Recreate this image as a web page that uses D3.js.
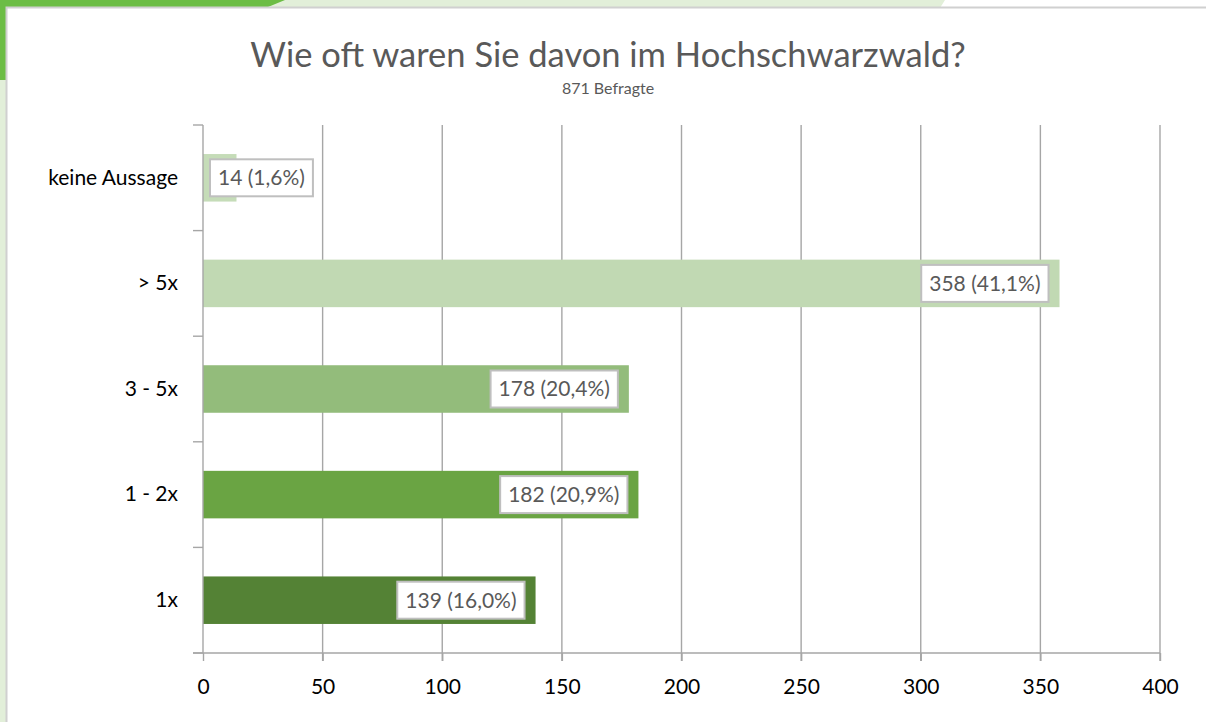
<!DOCTYPE html>
<html>
<head>
<meta charset="utf-8">
<script src="https://cdn.jsdelivr.net/npm/d3@7"></script>
<style>
  body { margin: 0; background: #fff; }
  svg { display: block; }
  svg text { font-family: Lato, "Open Sans", sans-serif; }
</style>
</head>
<body>
<div class="chart-wrapper"></div>
<script>

// data
const categories = ["keine Aussage", "> 5x", "3 - 5x", "1 - 2x", "1x"];
const counts = [14, 358, 178, 182, 139];
const shares = [1.6, 41.1, 20.4, 20.9, 16.0];
const barColors = ["#c5dcb8", "#c1d9b3", "#93bc7b", "#6aa443", "#548235"];
const xTicks = [0, 50, 100, 150, 200, 250, 300, 350, 400];

const titleText = "Wie oft waren Sie davon im Hochschwarzwald?";
const subtitleText = "871 Befragte";

const width = 1206;
const height = 722;

let svg = d3.select('.chart-wrapper').append('svg')
.attr('width', width)
.attr('height', height)

// SLIDE BACKGROUND

svg.append('rect')
.attr('width', width)
.attr('height', height)
.style('fill', '#e2efd9')

svg.append('path')
.attr('d', 'M945,0 L1206,0 L1206,8 L940,8 Z')
.style('fill', '#ffffff')

svg.append('path')
.attr('d', 'M0,0 L285,0 L268,7 L6,7 L6,80 L0,80 Z')
.style('fill', '#6cbd45')

svg.append('rect')
.attr('x', 6)
.attr('y', 7)
.attr('width', width - 6)
.attr('height', height - 7)
.style('fill', '#ffffff')

svg.append('path')
.attr('d', 'M6.5,' + height + ' L6.5,7.5 L' + width + ',7.5')
.style('fill', 'none')
.style('stroke', '#d0d0d0')
.style('stroke-width', 2)

// SCALES

let x = d3.scaleLinear()
.domain([0, 400])
.range([203, 1160])

let y = d3.scaleBand()
.domain(categories)
.range([125, 653])
.paddingInner(0.55)
.paddingOuter(0.275)

const gridColor = '#a6a6a6';

// TITLE

svg.append('text')
.attr('x', 608)
.attr('y', 67)
.attr('text-anchor', 'middle')
.style('font-size', '34.5px')
.style('fill', '#595959')
.text(titleText)

svg.append('text')
.attr('x', 608)
.attr('y', 94)
.attr('text-anchor', 'middle')
.style('font-size', '16px')
.style('fill', '#595959')
.text(subtitleText)

// GRID

let grid = svg.append('g')
.attr('class', 'grid')

grid.selectAll('line')
.data(xTicks.slice(1))
.enter()
.append('line')
.attr('x1', d => x(d))
.attr('x2', d => x(d))
.attr('y1', y.range()[0])
.attr('y2', y.range()[1] + 8)
.style('stroke', gridColor)
.style('stroke-width', 1.4)

// BARS

let bars = svg.append('g')
.attr('class', 'bars')

bars.selectAll('rect')
.data(categories)
.enter()
.append('rect')
.attr('x', x(0))
.attr('y', d => y(d))
.attr('width', (d, i) => x(counts[i]) - x(0))
.attr('height', y.bandwidth())
.style('fill', (d, i) => barColors[i])

// AXES

let xAxis = svg.append('g')
.attr('transform', 'translate(0,' + y.range()[1] + ')')
.call(d3.axisBottom(x).tickValues(xTicks).tickSize(8).tickPadding(14).tickSizeOuter(0))

xAxis.attr('font-family', null)
xAxis.select('.domain').remove()
xAxis.selectAll('.tick line').style('stroke', gridColor).style('stroke-width', 1.4)
xAxis.selectAll('.tick text')
.style('font-size', '21px')
.style('fill', '#000')
.attr('dy', '0.9em')

svg.append('line')
.attr('x1', x(0) - 10)
.attr('x2', x(400))
.attr('y1', y.range()[1])
.attr('y2', y.range()[1])
.style('stroke', gridColor)
.style('stroke-width', 1.4)

let yAxis = svg.append('g')
.attr('transform', 'translate(' + x(0) + ',0)')
.call(d3.axisLeft(y).tickSize(0).tickPadding(25))

yAxis.attr('font-family', null)
yAxis.select('.domain').remove()
yAxis.selectAll('.tick text')
.style('font-size', '21px')
.style('fill', '#000')

svg.append('line')
.attr('x1', x(0))
.attr('x2', x(0))
.attr('y1', y.range()[0])
.attr('y2', y.range()[1])
.style('stroke', gridColor)
.style('stroke-width', 1.4)

svg.append('g')
.selectAll('line')
.data(d3.range(categories.length + 1))
.enter()
.append('line')
.attr('x1', x(0) - 10)
.attr('x2', x(0))
.attr('y1', i => y.range()[0] + i * y.step())
.attr('y2', i => y.range()[0] + i * y.step())
.style('stroke', gridColor)
.style('stroke-width', 1.4)

// VALUE LABELS

let fmt = v => v.toFixed(1).replace('.', ',')

let labels = svg.append('g')
.attr('class', 'labels')

categories.forEach((cat, i) => {

	let label = labels.append('g')

	let box = label.append('rect')
	.style('fill', '#ffffff')
	.style('stroke', '#bfbfbf')
	.style('stroke-width', 2)

	let txt = label.append('text')
	.attr('dy', '0.35em')
	.style('font-size', '21px')
	.style('fill', '#595959')
	.text(counts[i] + ' (' + fmt(shares[i]) + '%)')

	let tw = txt.node().getComputedTextLength();
	let w = tw + 16;
	let h = 37;
	let cy = y(cat) + y.bandwidth() / 2;

	let right = x(counts[i]) - 11;
	let left = right - w;
	if(left < x(0) + 7) left = x(0) + 7;

	box
	.attr('x', left)
	.attr('y', cy - h / 2)
	.attr('width', w)
	.attr('height', h)

	txt
	.attr('x', left + 8)
	.attr('y', cy)
})

</script>
</body>
</html>
